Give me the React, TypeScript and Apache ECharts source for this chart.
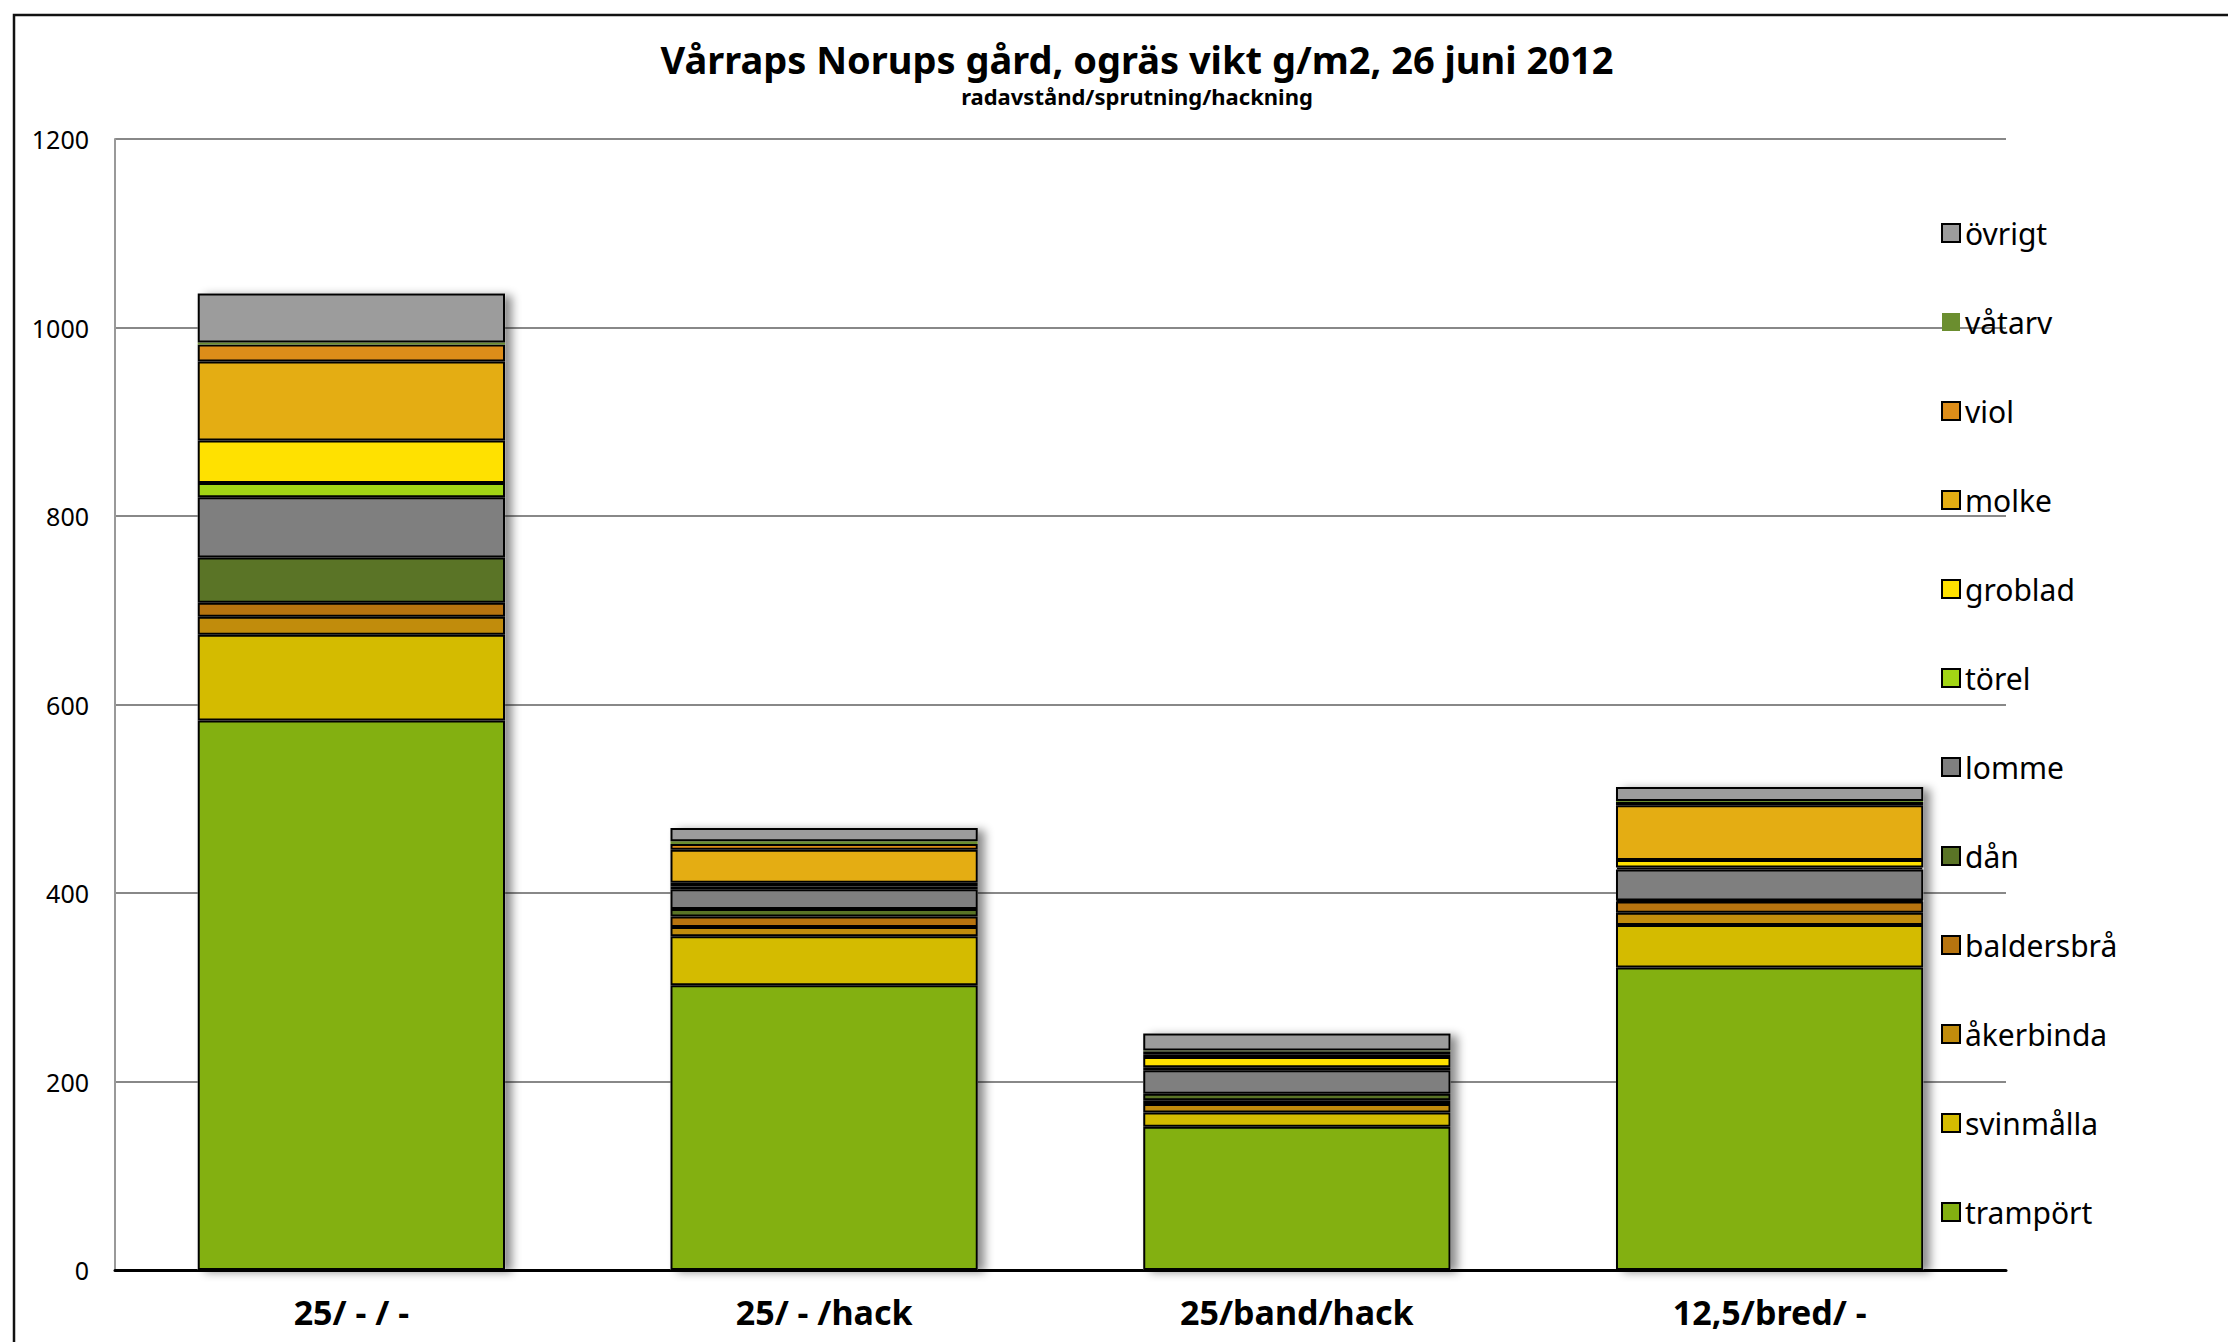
import React, { useEffect, useRef } from "react";
import * as echarts from "echarts";

const categories = ["25/ - / -", "25/ - /hack", "25/band/hack", "12,5/bred/ -"];

const tramport = [583, 302, 152, 321];
const svinmalla = [91, 52, 15, 45];
const akerbinda = [19, 10, 9, 13];
const baldersbra = [15, 11, 4, 12];
const dan = [48, 8, 7, 1];
const lomme = [64, 21, 25, 33];
const torel = [15, 3, 3, 2];
const groblad = [45, 4, 11, 8];
const molke = [84, 35, 3, 58];
const viol = [18, 6, 3, 3.5];
const vatarv = [2, 3, 1, 1];
const ovrigt = [52, 14, 18, 15];

const yTicks = { min: 0, max: 1200, interval: 200 };

const seriesDefs = [
  { name: "trampört", data: tramport, color: "#83B011", border: true },
  { name: "svinmålla", data: svinmalla, color: "#D4BB00", border: true },
  { name: "åkerbinda", data: akerbinda, color: "#C18C0C", border: true },
  { name: "baldersbrå", data: baldersbra, color: "#B7740F", border: true },
  { name: "dån", data: dan, color: "#5A7426", border: true },
  { name: "lomme", data: lomme, color: "#7F7F7F", border: true },
  { name: "törel", data: torel, color: "#A2D515", border: true },
  { name: "groblad", data: groblad, color: "#FFE100", border: true },
  { name: "molke", data: molke, color: "#E4AD13", border: true },
  { name: "viol", data: viol, color: "#DD8D19", border: true },
  { name: "våtarv", data: vatarv, color: "#6B8E2F", border: false },
  { name: "övrigt", data: ovrigt, color: "#9C9C9C", border: true },
];

const FONT = "'Noto Sans', 'DejaVu Sans', sans-serif";

export default function App() {
  const ref = useRef<HTMLDivElement>(null);

  useEffect(() => {
    if (!ref.current) return;
    const chart = echarts.init(ref.current, null, { renderer: "svg" });

    const totals = categories.map((_, i) =>
      seriesDefs.reduce((s, d) => s + d.data[i], 0)
    );

    const series: any[] = seriesDefs.map((d) => ({
      name: d.name,
      type: "bar",
      stack: "total",
      data: d.data,
      barCategoryGap: "35%",
      barGap: "-100%",
      z: 3,
      itemStyle: {
        color: d.color,
        borderColor: "#000",
        borderWidth: d.border ? 2 : 0,
      },
    }));

    series.push({
      name: "__shadow",
      type: "bar",
      data: totals,
      barCategoryGap: "35%",
      barGap: "-100%",
      z: 1,
      silent: true,
      itemStyle: {
        color: "#fff",
        shadowColor: "rgba(0,0,0,0.45)",
        shadowBlur: 10,
        shadowOffsetX: 7,
        shadowOffsetY: 2,
      },
    });

    chart.setOption({
      animation: false,
      backgroundColor: "#fff",
      title: [
        {
          text: "Vårraps Norups gård, ogräs vikt g/m2, 26 juni 2012",
          left: 1132,
          top: 35,
          textAlign: "center",
          textStyle: {
            fontFamily: FONT,
            fontWeight: "bold",
            fontSize: 38,
            color: "#000",
          },
        },
        {
          text: "radavstånd/sprutning/hackning",
          left: 1132,
          top: 80,
          textAlign: "center",
          textStyle: {
            fontFamily: FONT,
            fontWeight: "bold",
            fontSize: 22,
            color: "#000",
          },
        },
      ],
      legend: {
        orient: "vertical",
        left: 1936,
        top: 213,
        data: seriesDefs.map((d) => d.name).reverse(),
        icon: "rect",
        itemWidth: 18,
        itemHeight: 18,
        itemGap: 59,
        textStyle: {
          fontFamily: FONT,
          fontSize: 30,
          lineHeight: 28,
          color: "#000",
        },
        selectedMode: false,
      },
      grid: {
        left: 115,
        right: 222,
        top: 139,
        bottom: 72,
        containLabel: false,
      },
      xAxis: {
        type: "category",
        data: categories,
        axisLine: { show: true, lineStyle: { color: "#000", width: 3 } },
        axisTick: { show: false },
        axisLabel: {
          fontFamily: FONT,
          fontWeight: "bold",
          fontSize: 34,
          color: "#000",
          margin: 25,
        },
      },
      yAxis: {
        type: "value",
        min: yTicks.min,
        max: yTicks.max,
        interval: yTicks.interval,
        axisLine: { show: true, lineStyle: { color: "#999", width: 2 } },
        axisTick: { show: false },
        splitLine: { show: true, lineStyle: { color: "#888", width: 2 } },
        axisLabel: {
          fontFamily: FONT,
          fontSize: 25,
          color: "#000",
          margin: 26,
          formatter: (v: number) => String(v),
        },
      },
      graphic: [
        {
          type: "rect",
          shape: { x: 14, y: 15, width: 2400, height: 2000 },
          style: { fill: "none", stroke: "#111", lineWidth: 2.5 },
          silent: true,
          z: 100,
        },
      ],
      series,
    });

    return () => chart.dispose();
  }, []);

  return (
    <div
      ref={ref}
      style={{ position: "fixed", left: 0, top: 0, width: 2228, height: 1342 }}
    />
  );
}
